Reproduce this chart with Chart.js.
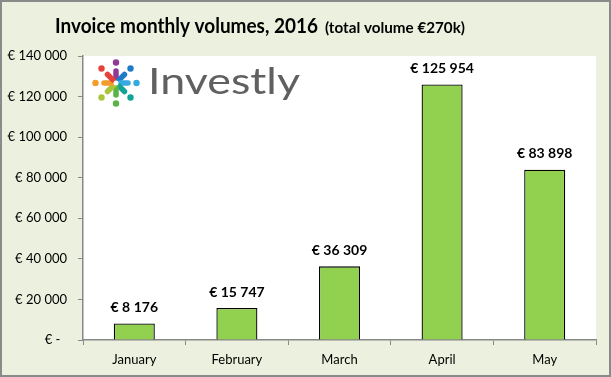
<!DOCTYPE html>
<html>
<head>
<meta charset="utf-8">
<script src="https://cdn.jsdelivr.net/npm/chart.js@4"></script>
<style>
  html, body { margin: 0; padding: 0; background: #EBF1DE; }
  #wrap { width: 611px; height: 377px; }
</style>
</head>
<body>
<div id="wrap"><canvas id="chart" width="611" height="377"></canvas></div>
<script>
const months = ["January", "February", "March", "April", "May"];
const volumes = [8176, 15747, 36309, 125954, 83898];
const yTicks = [0, 20000, 40000, 60000, 80000, 100000, 120000, 140000];
const titleMain = "Invoice monthly volumes, 2016";
const titleSub = "(total volume €270k)";
const logoText = "Investly";
const logoColors = ["#8E3A96", "#1E7BC8", "#36A9E1", "#12A398", "#5BB348", "#A9C63B", "#F39B2B", "#E6423A"];

const FONT = "Lato, 'Open Sans', sans-serif";

function euro(v) {
  if (v === 0) return "€ -  ";
  return "€ " + v.toString().replace(/\B(?=(\d{3})+(?!\d))/g, " ");
}

// draw text squeezed/stretched to a given width
function fitText(ctx, txt, x, y, w) {
  const m = ctx.measureText(txt).width;
  ctx.save();
  ctx.translate(x, y);
  ctx.scale(w / m, 1);
  ctx.fillText(txt, 0, 0);
  ctx.restore();
}

const decor = {
  id: "decor",
  beforeDraw(chart) {
    const { ctx, chartArea: a } = chart;
    ctx.save();
    ctx.fillStyle = "#EBF1DE";
    ctx.fillRect(0, 0, chart.width, chart.height);
    ctx.fillStyle = "#ffffff";
    ctx.fillRect(a.left, a.top, a.right - a.left, a.bottom - a.top);

    // title
    ctx.fillStyle = "#000";
    ctx.textBaseline = "alphabetic";
    ctx.font = "bold 21px " + FONT;
    fitText(ctx, titleMain, 55, 33, 263);
    ctx.font = "bold 15px " + FONT;
    fitText(ctx, titleSub, 325, 33, 140);

    // logo
    const cx = 116, cy = 83;
    logoColors.forEach((c, i) => {
      const ang = -Math.PI / 2 + i * Math.PI / 4;
      const dx = Math.cos(ang), dy = Math.sin(ang);
      ctx.strokeStyle = c;
      ctx.lineWidth = 5.5;
      ctx.lineCap = "round";
      ctx.beginPath();
      ctx.moveTo(cx + dx * 4, cy + dy * 4);
      ctx.lineTo(cx + dx * 12, cy + dy * 12);
      ctx.stroke();
      ctx.fillStyle = c;
      ctx.beginPath();
      ctx.arc(cx + dx * 20.5, cy + dy * 20.5, 3.2, 0, Math.PI * 2);
      ctx.fill();
    });
    ctx.fillStyle = "#fff";
    ctx.beginPath();
    ctx.arc(cx, cy, 2.5, 0, Math.PI * 2);
    ctx.fill();
    ctx.fillStyle = "#606060";
    ctx.font = "400 36px " + FONT;
    fitText(ctx, logoText, 148, 94, 152);
    ctx.restore();
  },
  afterDraw(chart) {
    const ctx = chart.ctx;
    ctx.save();
    ctx.strokeStyle = "#8a8a8a";
    ctx.lineWidth = 2;
    ctx.strokeRect(1, 1, chart.width - 2, chart.height - 2);
    ctx.restore();
  }
};

const barLabels = {
  id: "barLabels",
  afterDatasetsDraw(chart) {
    const ctx = chart.ctx;
    const meta = chart.getDatasetMeta(0);
    ctx.save();
    ctx.fillStyle = "#000";
    ctx.font = "bold 14px " + FONT;
    ctx.textAlign = "center";
    ctx.textBaseline = "middle";
    meta.data.forEach((bar, i) => {
      ctx.fillText(euro(volumes[i]), bar.x, bar.y - 16);
    });
    ctx.restore();
  }
};

new Chart(document.getElementById("chart"), {
  type: "bar",
  data: {
    labels: months,
    datasets: [{
      data: volumes,
      backgroundColor: "#92D050",
      borderColor: "#000",
      borderWidth: 1.3,
      categoryPercentage: 0.4,
      barPercentage: 1
    }]
  },
  options: {
    responsive: false,
    animation: false,
    layout: { padding: { top: 56, right: 15, left: 0, bottom: 0 } },
    plugins: { legend: { display: false }, tooltip: { enabled: false }, title: { display: false } },
    scales: {
      x: {
        offset: true,
        grid: { offset: true, drawOnChartArea: false, tickLength: 5, color: "#888" },
        border: { color: "#888", width: 1.5 },
        ticks: { color: "#000", font: { family: FONT, size: 13 }, padding: 7 },
        afterFit(s) { s.height = 37; }
      },
      y: {
        min: 0,
        max: 140000,
        afterBuildTicks(s) { s.ticks = yTicks.map(v => ({ value: v })); },
        grid: { drawOnChartArea: false, tickLength: 5, color: "#888" },
        border: { color: "#888", width: 1.5 },
        ticks: { color: "#000", font: { family: FONT, size: 13 }, padding: 11, callback: v => euro(v) },
        afterFit(s) { s.width = 83; }
      }
    }
  },
  plugins: [decor, barLabels]
});
</script>
</body>
</html>
